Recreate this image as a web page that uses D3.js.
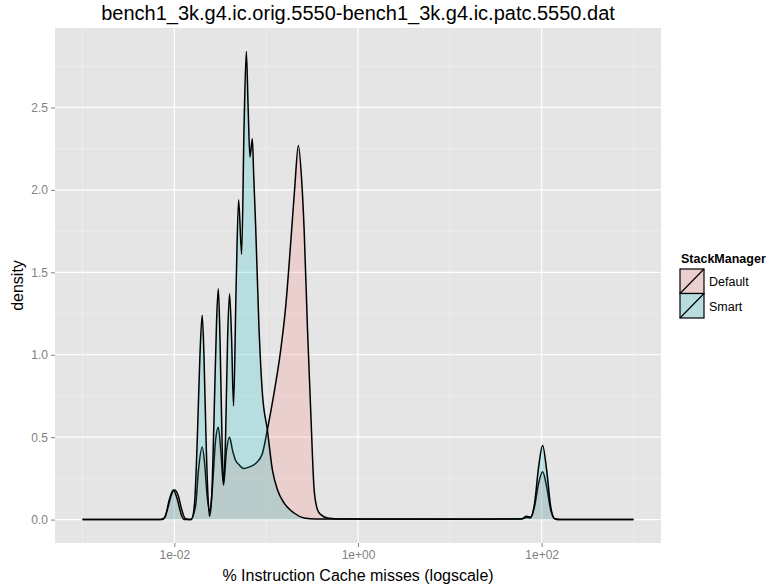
<!DOCTYPE html>
<html>
<head>
<meta charset="utf-8">
<script src="https://cdn.jsdelivr.net/npm/d3@7"></script>
<style>
  body { margin: 0; background: #fff; }
  text { font-family: "Liberation Sans", Arial, Helvetica, sans-serif; }
</style>
</head>
<body>
<svg id="drawing_region"></svg>
<script>
// x in % instruction cache misses (log scale), y is density
const defaultX = [0.001, 0.00703, 0.00778, 0.00859, 0.00928, 0.0101, 0.0111, 0.0119, 0.0132, 0.0150,
    0.0170, 0.0183, 0.0201, 0.0213, 0.0227, 0.0244, 0.0260, 0.0281, 0.0301, 0.0322,
    0.0343, 0.0370, 0.0399, 0.0430, 0.0464, 0.0513, 0.0568, 0.0660, 0.0768, 0.0908,
    0.103, 0.122, 0.144, 0.163, 0.185, 0.205, 0.224, 0.244, 0.259, 0.282, 0.306, 0.333,
    0.362, 0.394, 0.466, 0.652, 2.95, 22.1, 60.4, 68.6, 75.8, 83.8, 92.7, 102.5,
    113.4, 125.4, 138.8, 157.3, 1000];
const defaultY = [0, 0, 0.01, 0.08, 0.15, 0.18, 0.14, 0.07, 0.005, 0,
    0.08, 0.30, 0.44, 0.35, 0.15, 0.05, 0.20, 0.48, 0.56, 0.40,
    0.21, 0.42, 0.50, 0.42, 0.36, 0.33, 0.31, 0.32, 0.34, 0.40,
    0.545, 0.77, 1.03, 1.29, 1.68, 2.02, 2.27, 2.05, 1.76, 1.15, 0.65, 0.18,
    0.06, 0.03, 0.01, 0.003, 0.003, 0.003, 0.004, 0.012, 0.01, 0.08, 0.22, 0.29,
    0.20, 0.06, 0.005, 0, 0];

const smartX = [0.001, 0.00739, 0.00797, 0.00881, 0.00975, 0.0108, 0.0119, 0.0128, 0.0153, 0.0166,
    0.0178, 0.0190, 0.0201, 0.0210, 0.0221, 0.0232, 0.0241, 0.0254, 0.0270, 0.0288, 0.0301,
    0.0314, 0.0330, 0.0343, 0.0361, 0.0380, 0.0399, 0.0420, 0.0441, 0.0470, 0.0501, 0.0540,
    0.0575, 0.0608, 0.0636, 0.0665, 0.0707, 0.0730, 0.0768, 0.0834, 0.0908, 0.103, 0.117,
    0.133, 0.157, 0.201, 0.259, 0.348, 10.4, 36.5, 60.4, 68.6, 75.8, 83.8, 92.7, 102.5,
    113.4, 125.4, 138.8, 157.3, 1000];
const smartY = [0, 0, 0.02, 0.12, 0.18, 0.12, 0.03, 0, 0, 0.10,
    0.50, 1.00, 1.24, 1.00, 0.50, 0.15, 0.02, 0.12, 0.60, 1.20, 1.40,
    1.10, 0.50, 0.21, 0.50, 1.10, 1.37, 1.10, 0.69, 1.40, 1.94, 1.61,
    2.40, 2.84, 2.50, 2.20, 2.31, 2.10, 1.78, 1.17, 0.77, 0.545, 0.30,
    0.18, 0.10, 0.04, 0.01, 0.003, 0.002, 0.003, 0.005, 0.02, 0.015, 0.10, 0.32, 0.45,
    0.30, 0.08, 0.005, 0, 0];

const groups = ["Default", "Smart"];
const groupColors = ["#F8766D", "#00BFC4"];
const xTicks = [1e-2, 1, 1e2];
const xTickLabels = ["1e-02", "1e+00", "1e+02"];
const xMinor = [1e-3, 1e-1, 10, 1e3];
const yTicks = [0, 0.5, 1.0, 1.5, 2.0, 2.5];
const yMinor = [0.25, 0.75, 1.25, 1.75, 2.25, 2.75];

const W = 772, H = 585;
const panel = {left: 55, right: 661, top: 28, bottom: 543};

const svg = d3.select("#drawing_region").attr("width", W).attr("height", H);

const x = d3.scaleLog()
    .domain([Math.pow(10, -3.3), Math.pow(10, 3.3)])
    .range([panel.left, panel.right]);
const y = d3.scaleLinear()
    .domain([-0.142, 2.982])
    .range([panel.bottom, panel.top]);

// panel
svg.append("rect")
    .attr("x", panel.left).attr("y", panel.top)
    .attr("width", panel.right - panel.left).attr("height", panel.bottom - panel.top)
    .attr("fill", "#E5E5E5");

// grid
const grid = svg.append("g");
grid.selectAll(".xminor").data(xMinor).enter().append("line")
    .attr("x1", d => x(d)).attr("x2", d => x(d))
    .attr("y1", panel.top).attr("y2", panel.bottom)
    .attr("stroke", "#F2F2F2").attr("stroke-width", 0.6);
grid.selectAll(".yminor").data(yMinor).enter().append("line")
    .attr("x1", panel.left).attr("x2", panel.right)
    .attr("y1", d => y(d)).attr("y2", d => y(d))
    .attr("stroke", "#F2F2F2").attr("stroke-width", 0.6);
grid.selectAll(".xmajor").data(xTicks).enter().append("line")
    .attr("x1", d => x(d)).attr("x2", d => x(d))
    .attr("y1", panel.top).attr("y2", panel.bottom)
    .attr("stroke", "#FFFFFF").attr("stroke-width", 1.2);
grid.selectAll(".ymajor").data(yTicks).enter().append("line")
    .attr("x1", panel.left).attr("x2", panel.right)
    .attr("y1", d => y(d)).attr("y2", d => y(d))
    .attr("stroke", "#FFFFFF").attr("stroke-width", 1.2);

// density areas
const series = [
    {name: "Default", pts: defaultX.map((v, i) => [v, defaultY[i]])},
    {name: "Smart", pts: smartX.map((v, i) => [v, smartY[i]])}
];

const area = d3.area()
    .curve(d3.curveMonotoneX)
    .x(d => x(d[0]))
    .y0(y(0))
    .y1(d => y(d[1]));

const line = d3.line()
    .curve(d3.curveMonotoneX)
    .x(d => x(d[0]))
    .y(d => y(d[1]));

const layer = svg.append("g");
series.forEach((s, i) => {
    layer.append("path")
        .attr("d", area(s.pts))
        .attr("fill", groupColors[i])
        .attr("fill-opacity", 0.2)
        .attr("stroke", "none");
    layer.append("path")
        .attr("d", line(s.pts))
        .attr("fill", "none")
        .attr("stroke", "#000")
        .attr("stroke-width", 1.5)
        .attr("stroke-linejoin", "round");
});

// axes
const xAxis = d3.axisBottom(x)
    .tickValues(xTicks)
    .tickFormat((d, i) => xTickLabels[i])
    .tickSize(4).tickPadding(3);
const gx = svg.append("g")
    .attr("transform", `translate(0,${panel.bottom})`)
    .call(xAxis);
const yAxis = d3.axisLeft(y)
    .tickValues(yTicks)
    .tickFormat(d3.format(".1f"))
    .tickSize(4).tickPadding(3);
const gy = svg.append("g")
    .attr("transform", `translate(${panel.left},0)`)
    .call(yAxis);
[gx, gy].forEach(g => {
    g.select(".domain").remove();
    g.selectAll(".tick line").attr("stroke", "#7F7F7F").attr("stroke-width", 1);
    g.selectAll(".tick text").attr("fill", "#7F7F7F").style("font-size", "12px");
});

// titles
svg.append("text")
    .attr("x", (panel.left + panel.right) / 2).attr("y", 20)
    .attr("text-anchor", "middle")
    .style("font-size", "20px")
    .text("bench1_3k.g4.ic.orig.5550-bench1_3k.g4.ic.patc.5550.dat");

svg.append("text")
    .attr("x", (panel.left + panel.right) / 2).attr("y", 581)
    .attr("text-anchor", "middle")
    .style("font-size", "16px")
    .text("% Instruction Cache misses (logscale)");

svg.append("text")
    .attr("transform", `translate(23,${(panel.top + panel.bottom) / 2}) rotate(-90)`)
    .attr("text-anchor", "middle")
    .style("font-size", "16px")
    .text("density");

// legend
const legend = svg.append("g").attr("transform", "translate(680,0)");
legend.append("text")
    .attr("x", 1).attr("y", 263)
    .style("font-size", "12.5px").style("font-weight", "bold")
    .text("StackManager");
const keys = legend.selectAll(".key").data(groups).enter().append("g")
    .attr("transform", (d, i) => `translate(0,${269 + i * 24.5})`);
keys.append("rect")
    .attr("width", 24).attr("height", 24.5)
    .attr("fill", "#E5E5E5");
keys.append("rect")
    .attr("width", 24).attr("height", 24.5)
    .attr("fill", (d, i) => groupColors[i])
    .attr("fill-opacity", 0.2)
    .attr("stroke", "#000").attr("stroke-width", 1.2);
keys.append("line")
    .attr("x1", 0).attr("y1", 24.5).attr("x2", 24).attr("y2", 0)
    .attr("stroke", "#000").attr("stroke-width", 1.2);
keys.append("text")
    .attr("x", 29).attr("y", 17)
    .style("font-size", "12.5px")
    .text(d => d);
</script>
</body>
</html>
